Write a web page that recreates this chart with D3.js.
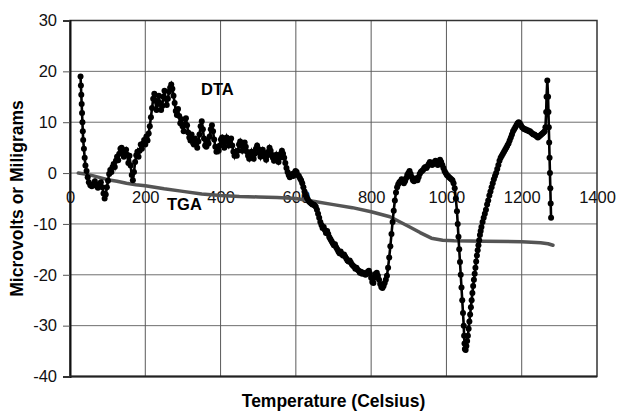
<!DOCTYPE html>
<html>
<head>
<meta charset="utf-8">
<script src="https://d3js.org/d3.v7.min.js"></script>
<style>
  body { margin: 0; background: #fff; }
  text { font-family: Arial, "Liberation Sans", sans-serif; }
</style>
</head>
<body>
<div id="chart"></div>
<script>
// tick values
const xTicks = [0, 200, 400, 600, 800, 1000, 1200, 1400];
const yTicks = [-40, -30, -20, -10, 0, 10, 20, 30];

// DTA readings [temperature, microvolts]
const dtaData = [
  [28,19],[29,17.2],[30,15.4],[31,13.6],[32,11.8],[33,10],[34,8.2],[35,6.5],[37,4.8],[39,3],[41,1.5],[44,0.4],
  [47,-0.8],[50,-1.8],[54,-2.4],[58,-2.6],[62,-2.2],[66,-1.6],[70,-2.5],[74,-2.9],[78,-2.2],[82,-1.8],[86,-2.8],
  [89,-4],[92,-5],[95,-4.2],[98,-2.8],[101,-1.5],[104,-0.2],[107,0.6],[110,0.2],[113,1.2],[116,1.8],[119,1.2],
  [122,2.4],[125,3.2],[128,2.5],[131,3.8],[134,4.8],[137,5],[140,4.2],[143,3.2],[146,4.2],[149,4.6],[152,3.6],
  [155,2],[158,3.4],[161,1.5],[164,-0.4],[167,-1.4],[170,0.2],[173,2.2],[176,3.5],[179,4.2],[182,3.2],[185,4.4],
  [188,5.6],[191,4.8],[194,5.8],[197,6.5],[200,5.6],[203,7.2],[206,6.4],[209,7.8],[212,9.2],[215,11],[218,12.8],
  [221,14.6],[224,15.6],[227,14.2],[230,12.4],[233,13.6],[236,15.2],[239,13.8],[242,12.4],[245,13.2],[248,15],
  [251,16.2],[254,14.6],[257,13.4],[260,14.6],[263,16],[266,16.8],[269,17.4],[272,16.6],[275,15.2],[278,13.8],
  [281,12.2],[284,11.4],[287,12.6],[290,11.2],[293,9.8],[296,10.6],[299,9.2],[302,8.2],[305,9.6],[308,10.8],
  [311,9.4],[314,8],[317,7],[320,6.4],[323,7.6],[326,6.6],[329,5.6],[332,6.8],[335,5.8],[338,5],[341,6.2],
  [344,7.6],[347,9.2],[350,10.2],[353,8.6],[356,6.8],[359,5.4],[362,5.2],[365,6.4],[368,5.8],[371,7.2],[374,8.6],
  [377,9.4],[380,8.2],[383,6.6],[386,5.2],[389,4.2],[392,5],[395,4.4],[398,5.4],[401,6.6],[404,7],[407,6],[410,5],
  [413,6.2],[416,7],[419,6.2],[422,5.4],[425,6],[428,6.8],[431,5.4],[434,4.2],[437,3.4],[440,4.2],[443,3.4],
  [446,4.4],[449,5.6],[452,6.2],[455,5.4],[458,4.4],[461,5],[464,6],[467,5.2],[470,4.2],[473,3.4],[476,2.8],
  [479,3.6],[482,4.2],[485,3.2],[488,2.8],[491,3.8],[494,4.8],[497,5.4],[500,4.8],[503,4],[506,3.2],[509,4],
  [512,4.6],[515,4],[518,3.2],[521,2.6],[524,3.4],[527,4.2],[530,5],[533,4.4],[536,3.6],[539,3],[542,2.4],
  [545,2.8],[548,3.6],[551,2.8],[554,2.2],[557,3],[560,3.8],[563,4.4],[566,3.8],[569,3],[572,2],[575,1],
  [578,0.2],[581,-0.4],[584,-0.8],[587,-0.4],[590,-0.2],[593,-0.6],[596,0],[599,0.4],[602,0.2],[605,-0.4],
  [608,-0.6],[611,-1],[614,-1.4],[617,-2],[620,-2.8],[623,-3.6],[626,-4.4],[629,-4.8],[632,-5.2],[635,-5.6],
  [638,-5.8],[641,-6],[644,-6.2],[647,-6.2],[650,-6.4],[653,-6.6],[656,-7.2],[659,-8],[662,-8.8],[665,-9.6],
  [668,-10.2],[671,-10.8],[674,-10.6],[677,-11.2],[680,-11.8],[683,-11.4],[686,-12],[689,-12.6],[692,-13],
  [695,-13.4],[698,-13.8],[701,-14.2],[704,-14],[707,-14.6],[710,-15],[713,-15.4],[716,-15.8],[719,-15.4],
  [722,-15.9],[725,-16.2],[728,-16],[731,-16.4],[734,-16.8],[737,-17.2],[740,-17.4],[743,-17.2],[746,-17.6],
  [749,-18],[752,-18.2],[755,-18.4],[758,-18.8],[761,-18.6],[764,-19],[767,-19.2],[770,-19.6],[773,-19.4],
  [776,-19.8],[779,-19.6],[782,-19.8],[785,-20],[788,-19.8],[791,-19.4],[794,-19.2],[797,-19.8],[800,-20.6],
  [803,-21.4],[806,-21.6],[809,-20.6],[812,-19.8],[815,-19.6],[818,-20.2],[821,-21],[824,-21.8],[827,-22.4],
  [830,-22.6],[833,-22.2],[836,-21.6],[839,-21],[842,-20.2],[845,-18.6],[848,-16.6],[851,-14.4],[854,-12],
  [857,-9.6],[860,-7.4],[863,-5.4],[866,-3.8],[869,-2.8],[872,-2.2],[875,-1.8],[878,-1.6],[881,-1.2],[884,-1.6],
  [887,-2],[890,-1.6],[893,-1],[896,-0.4],[899,0],[902,0.4],[905,-0.2],[908,-0.8],[911,-1.4],[914,-1.6],
  [917,-1.2],[920,-1],[923,-1.4],[926,-0.8],[929,-0.2],[932,0.2],[935,0.4],[938,0.6],[941,1],[944,1.2],[947,1],
  [950,1.4],[953,1.8],[956,2.2],[959,2],[962,1.6],[965,1.8],[968,2.2],[971,2.4],[974,2],[977,1.6],[980,2.2],
  [983,2.6],[986,2.2],[989,1.6],[992,1],[995,0.4],[998,0],[1001,-0.4],[1004,-0.6],[1007,-0.8],[1010,-1],
  [1013,-1.2],[1016,-1.4],[1019,-2],[1022,-3],[1025,-5],[1028,-7.5],[1030,-10],[1032,-12.5],[1034,-15],
  [1036,-17.5],[1038,-20],[1040,-22.5],[1042,-25],[1044,-27.5],[1046,-30],[1047,-32],[1048,-33.5],[1049,-34.6],
  [1051,-34.8],[1053,-34],[1055,-33],[1057,-32],[1059,-30.6],[1061,-29.2],[1063,-27.8],[1065,-26.4],[1067,-25],
  [1069,-23.6],[1071,-22.2],[1073,-21],[1075,-19.8],[1077,-18.6],[1079,-17.4],[1081,-16.2],[1083,-15.2],
  [1085,-14.2],[1087,-13.2],[1089,-12.2],[1091,-11.4],[1093,-10.6],[1096,-9.6],[1099,-8.8],[1102,-8],[1105,-7.2],
  [1108,-6.2],[1111,-5.4],[1114,-4.4],[1117,-3.6],[1120,-2.8],[1123,-2],[1126,-1.2],[1129,-0.6],[1132,0],
  [1135,0.8],[1138,1.6],[1141,2.4],[1144,3],[1147,3.4],[1150,3.8],[1153,4.2],[1156,4.6],[1159,5],[1162,5.4],
  [1165,5.8],[1168,6.4],[1171,7],[1174,7.6],[1177,8.2],[1180,8.6],[1183,9],[1186,9.4],[1189,9.8],[1192,10],
  [1195,9.8],[1198,9.4],[1201,9],[1204,8.8],[1207,8.6],[1210,8.6],[1213,8.4],[1216,8.4],[1219,8.2],[1222,8.2],
  [1225,8],[1228,7.8],[1231,7.6],[1234,7.6],[1237,7.4],[1240,7.2],[1243,7],[1246,7.2],[1249,7.4],[1252,7.6],
  [1255,7.8],[1258,8],[1261,8.2],[1263,9],[1265,12],[1266,15],[1268,18.2],[1270,15],[1271,12],[1272,9],
  [1273,6],[1274,3],[1275,0],[1276,-3],[1277,-6],[1278,-8.8]
];

// TGA readings [temperature, milligrams]
const tgaData = [
  [22,0],[40,-0.2],[60,-0.5],[80,-0.9],[100,-1.3],[125,-1.6],[150,-2],[175,-2.3],[200,-2.5],[250,-3.1],
  [300,-3.6],[350,-4.1],[400,-4.4],[450,-4.6],[500,-4.7],[550,-4.8],[600,-5],[650,-5.6],[700,-6.2],[750,-6.8],
  [800,-7.6],[850,-8.6],[900,-10.5],[930,-11.7],[960,-12.8],[990,-13.2],[1020,-13.3],[1100,-13.4],[1200,-13.5],
  [1250,-13.7],[1270,-13.9],[1283,-14.2]
];

const margin = { top: 20.5, right: 22, bottom: 39.5, left: 70 };
const width = 619 - margin.left - margin.right,
  height = 416 - margin.top - margin.bottom;

const svg = d3.select("#chart").append("svg")
  .attr("width", 619)
  .attr("height", 416)
  .append("g")
  .attr("transform", "translate(" + margin.left + "," + margin.top + ")");

const x = d3.scaleLinear().domain([0, 1400]).range([0, width]);
const y = d3.scaleLinear().domain([-40, 30]).range([height, 0]);

// plain labels, no thousands comma and ascii minus
const plain = d => String(d);

// gridlines
svg.append("g")
  .selectAll("line")
  .data(yTicks)
  .enter().append("line")
  .attr("x1", 0).attr("x2", width)
  .attr("y1", d => y(d)).attr("y2", d => y(d))
  .attr("stroke", "#6e6e6e")
  .attr("stroke-width", 1);

svg.append("g")
  .selectAll("line")
  .data(xTicks.slice(1, -1))
  .enter().append("line")
  .attr("x1", d => x(d)).attr("x2", d => x(d))
  .attr("y1", 0).attr("y2", height)
  .attr("stroke", "#5a5a5a")
  .attr("stroke-width", 1);

// frame
svg.append("rect")
  .attr("width", width).attr("height", height)
  .attr("fill", "none")
  .attr("stroke", "#333")
  .attr("stroke-width", 1.5);

// y axis
const yAxis = d3.axisLeft(y).tickValues(yTicks).tickFormat(plain).tickSize(7).tickPadding(6);
const yG = svg.append("g").call(yAxis);
yG.select(".domain").attr("stroke", "#111").attr("stroke-width", 2);
yG.selectAll(".tick line").attr("stroke", "#555");
yG.selectAll("text").style("font-size", "16.5px").attr("fill", "#111")
  .style("font-family", "Arial, 'Liberation Sans', sans-serif");

// x axis labels sitting under the zero line
const xAxis = d3.axisBottom(x).tickValues(xTicks).tickFormat(plain).tickSize(0).tickPadding(18.6);
const xG = svg.append("g")
  .attr("transform", "translate(0," + y(0) + ")")
  .call(xAxis);
xG.select(".domain").remove();
xG.selectAll("text").style("font-size", "16.5px").attr("fill", "#111")
  .style("font-family", "Arial, 'Liberation Sans', sans-serif");

// bottom border heavier
svg.append("line")
  .attr("x1", 0).attr("x2", width)
  .attr("y1", height).attr("y2", height)
  .attr("stroke", "#222").attr("stroke-width", 2);

// TGA line
const line = d3.line().x(d => x(d[0])).y(d => y(d[1]));

svg.append("path")
  .datum(tgaData)
  .attr("d", line)
  .attr("fill", "none")
  .attr("stroke", "#555")
  .attr("stroke-width", 3.5)
  .attr("stroke-linejoin", "round")
  .attr("stroke-linecap", "round");

// DTA line with markers
svg.append("path")
  .datum(dtaData)
  .attr("d", line)
  .attr("fill", "none")
  .attr("stroke", "#000")
  .attr("stroke-width", 2.6);

svg.selectAll(".dot")
  .data(dtaData)
  .enter().append("circle")
  .attr("class", "dot")
  .attr("cx", d => x(d[0]))
  .attr("cy", d => y(d[1]))
  .attr("r", 3)
  .attr("fill", "#000");

// series labels
svg.append("text")
  .attr("x", 131).attr("y", 74.5)
  .style("font-size", "16.5px").style("font-weight", "bold")
  .text("DTA");

svg.append("text")
  .attr("x", 97).attr("y", 189)
  .style("font-size", "16.5px").style("font-weight", "bold")
  .text("TGA");

// axis titles
svg.append("text")
  .attr("x", width / 2)
  .attr("y", height + 30.5)
  .attr("text-anchor", "middle")
  .style("font-size", "17.5px").style("font-weight", "bold")
  .text("Temperature (Celsius)");

svg.append("text")
  .attr("transform", "rotate(-90)")
  .attr("x", -height / 2)
  .attr("y", -47)
  .attr("text-anchor", "middle")
  .style("font-size", "17.5px").style("font-weight", "bold")
  .text("Microvolts or Miligrams");
</script>
</body>
</html>
